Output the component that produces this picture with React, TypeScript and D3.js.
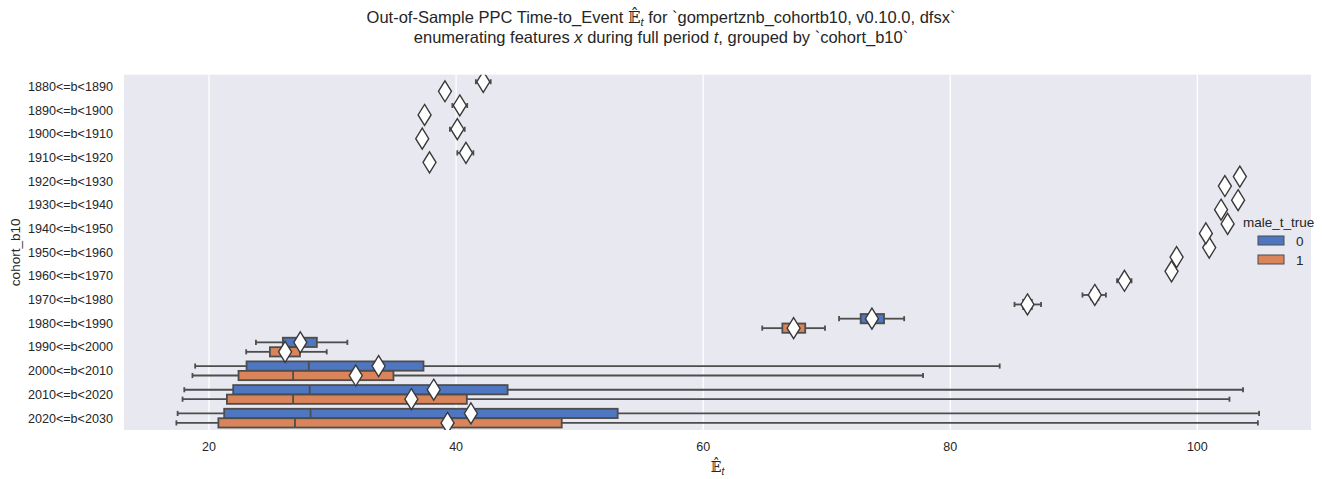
import React from 'react';
import * as d3 from 'd3';

const categories = ['1880<=b<1890','1890<=b<1900','1900<=b<1910','1910<=b<1920','1920<=b<1930','1930<=b<1940','1940<=b<1950','1950<=b<1960','1960<=b<1970','1970<=b<1980','1980<=b<1990','1990<=b<2000','2000<=b<2010','2010<=b<2020','2020<=b<2030'];
const hueLabels = ['0', '1'];
const xTicks = [20, 40, 60, 80, 100];

// hue 0 (blue)
const mean0 = [42.2, 40.3, 40.1, 40.8, 103.44, 103.3, 102.45, 100.96, 97.91, 91.7, 73.66, 27.39, 33.73, 38.19, 41.2];
const whiskLo0 = [41.6, 39.7, 39.5, 40.1, 103.3, 103.15, 102.3, 100.8, 97.75, 90.7, 71.0, 23.8, 18.88, 18.0, 17.46];
const q1_0 = [42.0, 40.1, 39.9, 40.6, 103.38, 103.25, 102.4, 100.9, 97.85, 91.4, 72.75, 25.98, 23.04, 21.96, 21.23];
const med0 = [42.2, 40.3, 40.1, 40.8, 103.44, 103.3, 102.45, 100.96, 97.91, 91.7, 73.6, 27.3, 28.08, 28.15, 28.22];
const q3_0 = [42.4, 40.5, 40.3, 41.0, 103.5, 103.35, 102.5, 101.0, 97.97, 92.0, 74.64, 28.73, 37.36, 44.17, 53.08];
const whiskHi0 = [42.8, 40.9, 40.7, 41.4, 103.6, 103.45, 102.6, 101.1, 98.05, 92.6, 76.27, 31.2, 84.0, 103.7, 105.0];

// hue 1 (orange)
const mean1 = [39.1, 37.45, 37.26, 37.85, 102.23, 101.92, 100.69, 98.32, 94.1, 86.25, 67.32, 26.16, 31.88, 36.38, 39.31];
const whiskLo1 = [38.8, 37.2, 37.0, 37.6, 102.1, 101.8, 100.55, 98.15, 93.5, 85.2, 64.78, 23.01, 18.66, 17.86, 17.36];
const q1_1 = [39.0, 37.35, 37.15, 37.75, 102.18, 101.87, 100.63, 98.25, 93.9, 85.9, 66.41, 24.93, 22.39, 21.45, 20.76];
const med1 = [39.1, 37.45, 37.26, 37.85, 102.23, 101.92, 100.69, 98.32, 94.1, 86.25, 67.3, 26.2, 26.81, 26.81, 26.96];
const q3_1 = [39.2, 37.55, 37.36, 37.95, 102.28, 101.97, 100.75, 98.4, 94.3, 86.6, 68.26, 27.36, 34.93, 40.87, 48.55];
const whiskHi1 = [39.4, 37.7, 37.5, 38.1, 102.35, 102.05, 100.85, 98.5, 94.67, 87.35, 69.86, 29.53, 77.8, 102.6, 104.9];

const hueColors = ['#4f76c0', '#d9845a'];

const W = 1322, H = 479;
const M = { left: 124, right: 1311, top: 74.7, bottom: 430 };
const FONT = '"Liberation Sans", Arial, Helvetica, sans-serif';
const LINE = '#4d4d4d';

export default function App() {
  const x = d3.scaleLinear().domain([13.12, 109.2]).range([M.left, M.right]);
  const y = d3.scaleBand<string>().domain(categories).range([M.top, M.bottom]).padding(0);
  const bw = y.bandwidth();
  const boxH = bw * 0.4 * 0.98;
  const capH = boxH * 0.55;

  const series = [
    { lo: whiskLo0, q1: q1_0, med: med0, q3: q3_0, hi: whiskHi0, mean: mean0 },
    { lo: whiskLo1, q1: q1_1, med: med1, q3: q3_1, hi: whiskHi1, mean: mean1 },
  ];

  const diamond = (cx: number, cy: number) => {
    const hw = 6.5, hh = 10.5;
    return `M${cx},${cy - hh}L${cx + hw},${cy}L${cx},${cy + hh}L${cx - hw},${cy}Z`;
  };

  return (
    <svg width={W} height={H} style={{ position: 'absolute', left: 0, top: 0, fontFamily: FONT }}>
      <defs>
        <clipPath id="plotclip">
          <rect x={M.left} y={M.top} width={M.right - M.left} height={M.bottom - M.top} />
        </clipPath>
      </defs>
      <rect x={0} y={0} width={W} height={H} fill="#ffffff" />
      <rect x={M.left} y={M.top} width={M.right - M.left} height={M.bottom - M.top} fill="#e8e8f1" />
      {xTicks.map((t) => (
        <line key={'g' + t} x1={x(t)} x2={x(t)} y1={M.top} y2={M.bottom} stroke="#ffffff" strokeWidth={1.3} />
      ))}
      <g clipPath="url(#plotclip)">
        {series.map((s, h) =>
          categories.map((c, i) => {
            const cy = (y(c) as number) + bw / 2 + (h === 0 ? -0.2 : 0.2) * bw;
            return (
              <g key={h + '-' + i}>
                <line x1={x(s.lo[i])} x2={x(s.q1[i])} y1={cy} y2={cy} stroke={LINE} strokeWidth={1.8} />
                <line x1={x(s.q3[i])} x2={x(s.hi[i])} y1={cy} y2={cy} stroke={LINE} strokeWidth={1.8} />
                <line x1={x(s.lo[i])} x2={x(s.lo[i])} y1={cy - capH / 2} y2={cy + capH / 2} stroke={LINE} strokeWidth={1.8} />
                <line x1={x(s.hi[i])} x2={x(s.hi[i])} y1={cy - capH / 2} y2={cy + capH / 2} stroke={LINE} strokeWidth={1.8} />
                <rect x={x(s.q1[i])} y={cy - boxH / 2} width={Math.max(0, x(s.q3[i]) - x(s.q1[i]))} height={boxH}
                  fill={hueColors[h]} stroke={LINE} strokeWidth={1.8} />
                <line x1={x(s.med[i])} x2={x(s.med[i])} y1={cy - boxH / 2} y2={cy + boxH / 2} stroke={LINE} strokeWidth={1.8} />
              </g>
            );
          })
        )}
        {series.map((s, h) =>
          categories.map((c, i) => {
            const cy = (y(c) as number) + bw / 2 + (h === 0 ? -0.2 : 0.2) * bw;
            return <path key={'m' + h + '-' + i} d={diamond(x(s.mean[i]), cy)} fill="#ffffff" stroke="#3a3a3a" strokeWidth={1.4} />;
          })
        )}
      </g>
      {xTicks.map((t) => (
        <text key={'t' + t} x={x(t)} y={451} textAnchor="middle" fontSize={12.5} fill="#262626">{t}</text>
      ))}
      {categories.map((c) => (
        <text key={'y' + c} x={113} y={(y(c) as number) + bw / 2 + 4.4} textAnchor="end" fontSize={12.6} fill="#262626">{c}</text>
      ))}
      <text x={(M.left + M.right) / 2} y={472} textAnchor="middle" fontSize={14} fill="#262626">
        <tspan fontFamily="DejaVu Serif">𝔼̂</tspan>
        <tspan fontStyle="italic" fontSize={10} dy={3}>t</tspan>
      </text>
      <text transform={`translate(20,${(M.top + M.bottom) / 2}) rotate(-90)`} textAnchor="middle" fontSize={13.5} fill="#262626">cohort_b10</text>
      <text x={661} y={23} textAnchor="middle" fontSize={16.5} fill="#262626">
        <tspan>Out-of-Sample PPC Time-to_Event  </tspan>
        <tspan fontFamily="DejaVu Serif">𝔼̂</tspan>
        <tspan fontStyle="italic" fontSize={11} dy={3}>t</tspan>
        <tspan dy={-3}> for `gompertznb_cohortb10, v0.10.0, dfsx`</tspan>
      </text>
      <text x={661} y={43} textAnchor="middle" fontSize={16.5} fill="#262626">
        <tspan>enumerating features </tspan>
        <tspan fontStyle="italic">x</tspan>
        <tspan> during full period </tspan>
        <tspan fontStyle="italic">t</tspan>
        <tspan>, grouped by `cohort_b10`</tspan>
      </text>
      <g>
        <text x={1243} y={227} fontSize={13.5} fill="#262626">male_t_true</text>
        {hueLabels.map((l, i) => (
          <g key={'lg' + l}>
            <rect x={1258} y={236 + i * 19} width={26} height={9} fill={hueColors[i]} stroke={LINE} strokeWidth={1} />
            <text x={1296} y={245.5 + i * 19} fontSize={13.5} fill="#262626">{l}</text>
          </g>
        ))}
      </g>
    </svg>
  );
}
